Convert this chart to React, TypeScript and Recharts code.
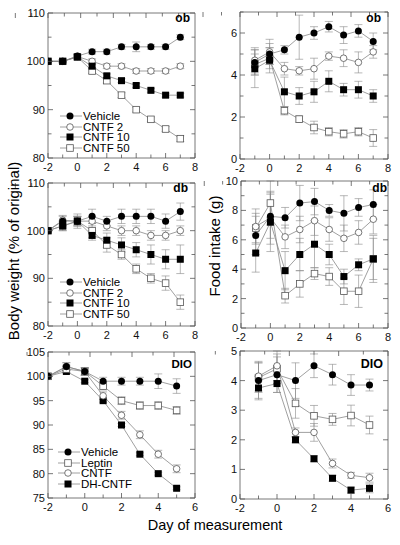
import { ComposedChart, Line, XAxis, YAxis, ErrorBar } from "recharts"

// ob mice, body weight (% of original)
const obDays = [-2, -1, 0, 1, 2, 3, 4, 5, 6, 7]
const obWtVehicle = [100, 100, 101.1, 102, 102, 103, 103, 103, 103, 105]
const obWtVehicleErr = [0, 0.3, 0.4, 0.5, 0.5, 0.5, 1, 0.5, 0.5, 0.5]
const obWtCntf2 = [100, 100, 101, 100, 99, 99, 98, 98, 98, 99]
const obWtCntf2Err = [0, 0.3, 0.4, 0.5, 0.5, 0.5, 0.5, 0.5, 0.5, 0.5]
const obWtCntf10 = [100, 100, 100.9, 99, 97, 96, 95, 94, 93, 93]
const obWtCntf10Err = [0, 0.3, 0.4, 0.4, 0.4, 0.4, 0.4, 0.4, 0.4, 0.4]
const obWtCntf50 = [100, 100, 100.9, 98, 96, 93, 90, 88, 86, 84]
const obWtCntf50Err = [0, 0.3, 0.4, 0.5, 0.5, 0.5, 0.5, 0.5, 0.5, 0.6]

// ob mice, food intake (g)
const obFoodDays = [-1, 0, 1, 2, 3, 4, 5, 6, 7]
const obFoodVehicle = [4.6, 5.0, 5.2, 5.8, 6.0, 6.3, 5.9, 6.1, 5.6]
const obFoodVehicleErr = [0.6, 0.5, 0.2, 1.05, 0.3, 0.25, 0.4, 0.3, 0.4]
const obFoodCntf2 = [4.7, 5.1, 4.3, 4.2, 4.3, 4.9, 4.8, 4.6, 5.1]
const obFoodCntf2Err = [0.6, 0.6, 0.3, 0.2, 0.5, 0.2, 0.4, 0.5, 0.3]
const obFoodCntf10 = [4.3, 4.7, 3.2, 3.0, 3.2, 3.7, 3.3, 3.3, 3.0]
const obFoodCntf10Err = [0.9, 0.6, 0.7, 0.4, 0.5, 0.5, 0.3, 0.4, 0.3]
const obFoodCntf50 = [4.5, 4.8, 2.3, 1.9, 1.5, 1.3, 1.2, 1.3, 1.0]
const obFoodCntf50Err = [0.5, 0.5, 0.2, 0.15, 0.3, 0.2, 0.2, 0.2, 0.4]

// db mice, body weight
const dbDays = [-2, -1, 0, 1, 2, 3, 4, 5, 6, 7]
const dbWtVehicle = [100, 102, 102, 103, 102, 103, 103, 103, 102, 104]
const dbWtVehicleErr = [0, 1, 1.5, 1.5, 1, 1.5, 1.5, 1.5, 1.5, 1.8]
const dbWtCntf2 = [100, 102.2, 102, 102, 101, 100, 100, 99, 99, 100]
const dbWtCntf2Err = [0, 1, 1, 1, 1, 1, 1, 1, 1, 1]
const dbWtCntf10 = [100, 101, 102, 99, 98, 97, 96, 95, 94, 94]
const dbWtCntf10Err = [0, 1, 1, 1, 1.5, 1.5, 1.5, 2, 2, 3]
const dbWtCntf50 = [100, 101, 102, 100, 97, 95, 92, 90, 89, 85]
const dbWtCntf50Err = [0, 1, 1, 1.5, 1.5, 1, 1, 1, 1.5, 1.5]

// db mice, food intake
const dbFoodDays = [-1, 0, 1, 2, 3, 4, 5, 6, 7]
const dbFoodVehicle = [6.3, 7.6, 7.5, 8.5, 8.6, 8.0, 7.8, 8.2, 8.4]
const dbFoodVehicleErr = [1.3, 1.5, 0.7, 1.2, 0.9, 0.4, 1.2, 0.6, 1.0]
const dbFoodCntf2 = [6.9, 7.5, 6.2, 6.7, 7.3, 6.7, 6.1, 6.5, 7.4]
const dbFoodCntf2Err = [1.2, 1.8, 0.8, 0.9, 1.0, 0.8, 0.9, 0.8, 1.0]
const dbFoodCntf10 = [5.1, 7.2, 3.9, 5.0, 5.7, 5.0, 3.5, 4.3, 4.7]
const dbFoodCntf10Err = [1.3, 2.0, 1.3, 1.1, 1.6, 0.7, 0.5, 0.4, 1.6]
const dbFoodCntf50 = [6.8, 8.5, 2.2, 3.0, 3.7, 3.5, 2.5, 2.5, 4.7]
const dbFoodCntf50Err = [1.0, 1.5, 0.5, 0.9, 0.4, 0.6, 0.9, 1.1, 1.4]

// DIO mice, body weight
const dioDays = [-2, -1, 0, 1, 2, 3, 4, 5]
const dioWtVehicle = [100, 102, 101, 99, 99, 99, 99, 98]
const dioWtVehicleErr = [0, 0.8, 0.7, 0.8, 0.8, 0.8, 1.5, 1.5]
const dioWtLeptin = [100, 101.5, 101, 98, 95, 94, 94, 93]
const dioWtLeptinErr = [0, 0.8, 0.8, 0.8, 0.8, 0.8, 0.8, 0.8]
const dioWtCntf = [100, 102, 101, 96, 92, 88, 84, 81]
const dioWtCntfErr = [0, 0.8, 0.8, 0.8, 0.8, 0.8, 0.8, 0.8]
const dioWtDhCntf = [100, 101, 99, 95, 90, 84, 80, 77]
const dioWtDhCntfErr = [0, 0.3, 0.3, 0.3, 0.3, 0.3, 0.3, 0.3]

// DIO mice, food intake
const dioFoodDays = [-1, 0, 1, 2, 3, 4, 5]
const dioFoodVehicle = [4.0, 4.2, 4.0, 4.5, 4.2, 3.85, 3.85]
const dioFoodVehicleErr = [0.6, 0.6, 0.6, 0.4, 0.35, 0.35, 0.2]
const dioFoodLeptin = [4.1, 4.4, 3.23, 2.81, 2.69, 2.82, 2.5]
const dioFoodLeptinErr = [0.5, 0.5, 0.5, 0.35, 0.2, 0.35, 0.3]
const dioFoodCntf = [4.15, 4.5, 2.25, 2.25, 1.2, 0.8, 0.72]
const dioFoodCntfErr = [0.5, 0.5, 0.15, 0.3, 0.15, 0.1, 0.15]
const dioFoodDhCntf = [3.75, 3.9, 2.0, 1.36, 0.7, 0.3, 0.36]
const dioFoodDhCntfErr = [0.4, 0.3, 0.1, 0.1, 0.1, 0.1, 0.15]

const dayTicks8 = [-2, -1, 0, 1, 2, 3, 4, 5, 6, 7, 8]
const dayTicks6 = [-2, -1, 0, 1, 2, 3, 4, 5, 6]
const dayLabels = [-2, 0, 2, 4, 6, 8]
const weightTicks = [80, 85, 90, 95, 100, 105, 110]
const weightLabels = [80, 90, 100, 110]
const dioWeightTicks = [75, 80, 85, 90, 95, 100, 105]
const obFoodTicks = [0, 1, 2, 3, 4, 5, 6, 7]
const obFoodLabels = [0, 2, 4, 6]
const dbFoodTicks = [0, 1, 2, 3, 4, 5, 6, 7, 8, 9, 10]
const dbFoodLabels = [0, 2, 4, 6, 8, 10]
const dioFoodTicks = [0, 1, 2, 3, 4, 5]

const obLegend = ["Vehicle", "CNTF 2", "CNTF 10", "CNTF 50"]
const dioLegend = ["Vehicle", "Leptin", "CNTF", "DH-CNTF"]

const FONT = "'Liberation Sans', Arial, Helvetica, sans-serif"
const AXIS = "#555"
const LINK = "#888"

type Shape = "dot" | "ring" | "box" | "frame"
const obShapes: Shape[] = ["dot", "ring", "box", "frame"]
const dioShapes: Shape[] = ["dot", "frame", "ring", "box"]

function Marker({ cx, cy, shape }: { cx: number; cy: number; shape: Shape }) {
  if (cx == null || cy == null) return null
  if (shape === "dot") return <circle cx={cx} cy={cy} r={3.5} fill="#000" />
  if (shape === "ring") return <circle cx={cx} cy={cy} r={3.3} fill="#fff" stroke="#555" strokeWidth={0.8} />
  if (shape === "box") return <rect x={cx - 3.5} y={cy - 3.5} width={7} height={7} fill="#000" />
  return <rect x={cx - 3.3} y={cy - 3.3} width={6.6} height={6.6} fill="#fff" stroke="#555" strokeWidth={0.8} />
}

function makeRows(days: number[], cols: Record<string, number[]>) {
  return days.map((day, i) => {
    const row: Record<string, number> = { day }
    for (const k in cols) row[k] = cols[k][i]
    return row
  })
}

type Series = { key: string; shape: Shape }

type PanelProps = {
  box: [number, number, number, number]
  rows: Record<string, number>[]
  series: Series[]
  xDomain: [number, number]
  xTicks: number[]
  xLabels: number[]
  yDomain: [number, number]
  yTicks: number[]
  yLabels: number[]
}

function Panel({ box, rows, series, xDomain, xTicks, xLabels, yDomain, yTicks, yLabels }: PanelProps) {
  const [L, T, R, B] = box
  const padL = 40, padT = 9, padR = 9, padB = 20
  const w = R - L + padL + padR
  const h = B - T + padT + padB
  const major = (list: number[], v: number) => list.includes(v)

  return (
    <div style={{ position: "absolute", left: L - padL, top: T - padT }}>
      <ComposedChart width={w} height={h} data={rows} margin={{ top: padT - 1, right: padR - 1, bottom: 0, left: 0 }}>
        <XAxis
          dataKey="day"
          type="number"
          domain={xDomain}
          ticks={xTicks}
          interval={0}
          height={padB}
          tickSize={0}
          tickMargin={0}
          allowDataOverflow
          axisLine={{ stroke: AXIS, strokeWidth: 0.8 }}
          tick={(p: any) => {
            const m = major(xLabels, p.payload.value)
            return (
              <g key={`bx${p.index}`}>
                <line x1={p.x} y1={p.y} x2={p.x} y2={p.y - (m ? 5 : 3.5)} stroke={AXIS} strokeWidth={0.8} />
                {m && (
                  <text x={p.x} y={p.y + 13} textAnchor="middle" fontFamily={FONT} fontSize={11} fill="#111">
                    {p.payload.value}
                  </text>
                )}
              </g>
            )
          }}
        />
        <XAxis
          xAxisId="top"
          orientation="top"
          type="number"
          domain={xDomain}
          ticks={xTicks}
          interval={0}
          height={1}
          tickSize={0}
          tickMargin={0}
          allowDataOverflow
          axisLine={{ stroke: AXIS, strokeWidth: 0.8 }}
          tick={(p: any) => (
            <line key={`tx${p.index}`} x1={p.x} y1={p.y} x2={p.x} y2={p.y + (major(xLabels, p.payload.value) ? 5 : 3.5)} stroke={AXIS} strokeWidth={0.8} />
          )}
        />
        <YAxis
          type="number"
          domain={yDomain}
          ticks={yTicks}
          interval={0}
          width={padL}
          tickSize={0}
          tickMargin={0}
          allowDataOverflow
          axisLine={{ stroke: AXIS, strokeWidth: 0.8 }}
          tick={(p: any) => {
            const m = major(yLabels, p.payload.value)
            return (
              <g key={`ly${p.index}`}>
                <line x1={p.x} y1={p.y} x2={p.x + (m ? 5 : 3.5)} y2={p.y} stroke={AXIS} strokeWidth={0.8} />
                {m && (
                  <text x={p.x - 3} y={p.y + 4} textAnchor="end" fontFamily={FONT} fontSize={11} fill="#111">
                    {p.payload.value}
                  </text>
                )}
              </g>
            )
          }}
        />
        <YAxis
          yAxisId="right"
          orientation="right"
          type="number"
          domain={yDomain}
          ticks={yTicks}
          interval={0}
          width={1}
          tickSize={0}
          tickMargin={0}
          allowDataOverflow
          axisLine={{ stroke: AXIS, strokeWidth: 0.8 }}
          tick={(p: any) => (
            <line key={`ry${p.index}`} x1={p.x} y1={p.y} x2={p.x - (major(yLabels, p.payload.value) ? 5 : 3.5)} y2={p.y} stroke={AXIS} strokeWidth={0.8} />
          )}
        />
        {series.map((s) => (
          <Line
            key={s.key}
            dataKey={s.key}
            type="linear"
            stroke={LINK}
            strokeWidth={0.8}
            isAnimationActive={false}
            dot={(p: any) => <Marker key={`${s.key}${p.index}`} cx={p.cx} cy={p.cy} shape={s.shape} />}
            activeDot={false}
          >
            <ErrorBar dataKey={`${s.key}E`} width={4} stroke="#888" strokeWidth={0.6} direction="y" />
          </Line>
        ))}
      </ComposedChart>
    </div>
  )
}

function LegendBox({ left, top, names, shapes, gap }: { left: number; top: number; names: string[]; shapes: Shape[]; gap: number }) {
  return (
    <div style={{ position: "absolute", left, top, fontFamily: FONT, fontSize: 11.5, lineHeight: "10.5px" }}>
      {names.map((n, i) => (
        <div key={n} style={{ display: "flex", alignItems: "center", height: 10.5 }}>
          <svg width={22} height={10} style={{ display: "block" }}>
            <line x1={0} y1={5} x2={22} y2={5} stroke={LINK} strokeWidth={0.8} />
            <Marker cx={10} cy={5} shape={shapes[i]} />
          </svg>
          <span style={{ marginLeft: gap, whiteSpace: "nowrap" }}>{n}</span>
        </div>
      ))}
    </div>
  )
}

function Tag({ right, top, text, size }: { right: number; top: number; text: string; size: number }) {
  return (
    <div style={{ position: "absolute", left: right - 40, width: 40, top, textAlign: "right", fontFamily: FONT, fontWeight: "bold", fontSize: size, lineHeight: "12px" }}>
      {text}
    </div>
  )
}

const fourSeries = (shapes: Shape[]): Series[] => {
  // draw order so the filled vehicle markers end up on top
  const keys = ["s3", "s1", "s2", "s0"]
  return keys.map((k) => ({ key: k, shape: shapes[Number(k[1])] }))
}

export default function App() {
  const obWt = makeRows(obDays, {
    s0: obWtVehicle, s0E: obWtVehicleErr, s1: obWtCntf2, s1E: obWtCntf2Err,
    s2: obWtCntf10, s2E: obWtCntf10Err, s3: obWtCntf50, s3E: obWtCntf50Err,
  })
  const obFood = makeRows(obFoodDays, {
    s0: obFoodVehicle, s0E: obFoodVehicleErr, s1: obFoodCntf2, s1E: obFoodCntf2Err,
    s2: obFoodCntf10, s2E: obFoodCntf10Err, s3: obFoodCntf50, s3E: obFoodCntf50Err,
  })
  const dbWt = makeRows(dbDays, {
    s0: dbWtVehicle, s0E: dbWtVehicleErr, s1: dbWtCntf2, s1E: dbWtCntf2Err,
    s2: dbWtCntf10, s2E: dbWtCntf10Err, s3: dbWtCntf50, s3E: dbWtCntf50Err,
  })
  const dbFood = makeRows(dbFoodDays, {
    s0: dbFoodVehicle, s0E: dbFoodVehicleErr, s1: dbFoodCntf2, s1E: dbFoodCntf2Err,
    s2: dbFoodCntf10, s2E: dbFoodCntf10Err, s3: dbFoodCntf50, s3E: dbFoodCntf50Err,
  })
  const dioWt = makeRows(dioDays, {
    s0: dioWtVehicle, s0E: dioWtVehicleErr, s1: dioWtLeptin, s1E: dioWtLeptinErr,
    s2: dioWtCntf, s2E: dioWtCntfErr, s3: dioWtDhCntf, s3E: dioWtDhCntfErr,
  })
  const dioFood = makeRows(dioFoodDays, {
    s0: dioFoodVehicle, s0E: dioFoodVehicleErr, s1: dioFoodLeptin, s1E: dioFoodLeptinErr,
    s2: dioFoodCntf, s2E: dioFoodCntfErr, s3: dioFoodDhCntf, s3E: dioFoodDhCntfErr,
  })
  const obSeries = fourSeries(obShapes)
  const dioSeries = fourSeries(dioShapes)

  return (
    <div style={{ position: "absolute", left: 0, top: 0, width: 400, height: 545, background: "#fff", overflow: "hidden" }}>
      <Panel box={[48, 13, 195, 158]} rows={obWt} series={obSeries} xDomain={[-2, 8]} xTicks={dayTicks8} xLabels={dayLabels} yDomain={[80, 110]} yTicks={weightTicks} yLabels={weightLabels} />
      <Panel box={[240, 12, 388, 159]} rows={obFood} series={obSeries} xDomain={[-2, 8]} xTicks={dayTicks8} xLabels={dayLabels} yDomain={[0, 7]} yTicks={obFoodTicks} yLabels={obFoodLabels} />
      <Panel box={[48, 183, 195, 326]} rows={dbWt} series={obSeries} xDomain={[-2, 8]} xTicks={dayTicks8} xLabels={dayLabels} yDomain={[80, 110]} yTicks={weightTicks} yLabels={weightLabels} />
      <Panel box={[241, 181, 388, 328]} rows={dbFood} series={obSeries} xDomain={[-2, 8]} xTicks={dayTicks8} xLabels={dayLabels} yDomain={[0, 10]} yTicks={dbFoodTicks} yLabels={dbFoodLabels} />
      <Panel box={[48, 352, 195, 498]} rows={dioWt} series={dioSeries} xDomain={[-2, 6]} xTicks={dayTicks6} xLabels={dayLabels} yDomain={[75, 105]} yTicks={dioWeightTicks} yLabels={dioWeightTicks} />
      <Panel box={[240, 351, 388, 499]} rows={dioFood} series={dioSeries} xDomain={[-2, 6]} xTicks={dayTicks6} xLabels={dayLabels} yDomain={[0, 5]} yTicks={dioFoodTicks} yLabels={dioFoodTicks} />

      <Tag right={190} top={12} text="ob" size={12} />
      <Tag right={381} top={12} text="ob" size={12} />
      <Tag right={188} top={182} text="db" size={12} />
      <Tag right={387} top={182} text="db" size={12} />
      <Tag right={192} top={358} text="DIO" size={11.5} />
      <Tag right={383} top={358} text="DIO" size={12.5} />

      <LegendBox left={60} top={111} names={obLegend} shapes={obShapes} gap={1} />
      <LegendBox left={60} top={277} names={obLegend} shapes={obShapes} gap={1} />
      <LegendBox left={58} top={447} names={dioLegend} shapes={dioShapes} gap={1} />

      <div style={{ position: "absolute", left: 13, top: 251, transform: "translate(-50%, -50%) rotate(-90deg)", whiteSpace: "nowrap", fontFamily: FONT, fontSize: 15 }}>
        Body weight (% of original)
      </div>
      <div style={{ position: "absolute", left: 214, top: 246, transform: "translate(-50%, -50%) rotate(-90deg)", whiteSpace: "nowrap", fontFamily: FONT, fontSize: 15 }}>
        Food intake (g)
      </div>
      <div style={{ position: "absolute", left: 215, top: 525, transform: "translate(-50%, -50%)", whiteSpace: "nowrap", fontFamily: FONT, fontSize: 14.5 }}>
        Day of measurement
      </div>
    </div>
  )
}
